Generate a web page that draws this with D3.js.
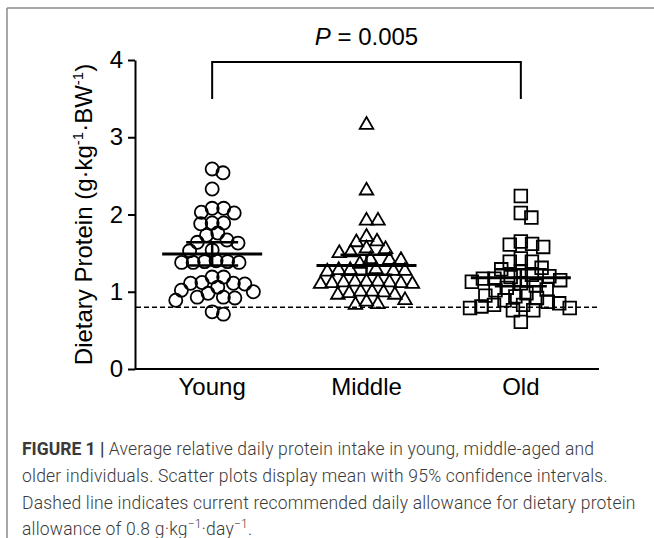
<!DOCTYPE html>
<html lang="en">
<head>
    <meta charset="UTF-8">
    <title>Dietary protein</title>
    <script src="https://d3js.org/d3.v7.min.js"></script>
    <style>
        body, html {
            margin: 0;
            background-color: #ffffff;
        }
        svg text {
            font-family: 'Liberation Sans', Arial, sans-serif;
        }
        svg text.caption {
            font-family: Roboto, 'Liberation Sans', sans-serif;
            font-weight: 300;
            letter-spacing: 0.2px;
            fill: #3a3a3a;
        }
    </style>
</head>
<body>

<svg id="chart" width="654" height="538"></svg>

<script>
    // values
    const categories = ["Young", "Middle", "Old"];
    const young = [2.59, 2.54, 2.33, 2.08, 2.08, 2.03, 2.02, 1.89, 1.88, 1.89, 1.73, 1.76, 1.64, 1.63,
        1.67, 1.53, 1.54, 1.40, 1.39, 1.38, 1.38, 1.39, 1.38, 1.19, 1.19, 1.12, 1.10, 1.06, 1.11,
        1.11, 1.00, 0.98, 1.02, 0.93, 0.93, 0.89, 0.92, 0.71, 0.74];
    const middle = [3.16, 2.31, 1.92, 1.92, 1.65, 1.64, 1.71, 1.55, 1.50, 1.51, 1.56, 1.41, 1.36, 1.41,
        1.42, 1.28, 1.27, 1.26, 1.27, 1.28, 1.29, 1.13, 1.12, 1.10, 1.11, 1.13, 1.12, 1.10, 1.11,
        1.13, 0.98, 0.96, 1.00, 1.00, 0.96, 0.99, 0.87, 0.83, 0.84, 0.89];
    const old = [2.24, 2.02, 1.96, 1.62, 1.58, 1.65, 1.61, 1.39, 1.39, 1.43, 1.29, 1.26, 1.31, 1.22,
        1.20, 1.17, 1.15, 1.17, 1.19, 1.13, 1.11, 1.08, 1.05, 1.02, 1.03, 0.98, 0.95, 0.92, 0.89,
        0.87, 0.94, 0.85, 0.83, 0.81, 0.83, 0.79, 0.76, 0.76, 0.79, 0.61];
    const means = [1.49, 1.34, 1.18];
    const ciLow = [1.34, 1.22, 1.07];
    const ciHigh = [1.64, 1.48, 1.29];
    const yTicks = [0, 1, 2, 3, 4];
    const rda = 0.8;
    const pLabel = "0.005";

    const groups = [young, middle, old];
    const symbols = [d3.symbolCircle, d3.symbolTriangle, d3.symbolSquare];
    const symbolSizes = [135, 80, 160];

    const svg = d3.select("#chart");

    // figure frame (top and left rule)
    svg.append("line").attr("x1", 7).attr("x2", 654).attr("y1", 8).attr("y2", 8)
        .attr("stroke", "#8a8a8a").attr("stroke-width", 1.5);
    svg.append("line").attr("x1", 7).attr("x2", 7).attr("y1", 8).attr("y2", 538)
        .attr("stroke", "#8a8a8a").attr("stroke-width", 1.5);

    const x = d3.scaleBand().domain(categories).range([135, 598]);
    const y = d3.scaleLinear().domain([0, 4]).range([369, 60]);

    // y axis
    const yAxis = svg.append("g")
        .attr("transform", "translate(135,0)")
        .call(d3.axisLeft(y).tickValues(yTicks).tickFormat(d3.format("d"))
            .tickSize(7).tickSizeOuter(0).tickPadding(5));
    yAxis.select(".domain").attr("stroke-width", 2);
    yAxis.selectAll(".tick line").attr("stroke-width", 2);
    yAxis.selectAll(".tick text").attr("font-size", 24).attr("fill", "#000");

    // x axis line and labels
    svg.append("line").attr("x1", 135).attr("x2", 599).attr("y1", y(0)).attr("y2", y(0))
        .attr("stroke", "#000").attr("stroke-width", 2);
    svg.selectAll(".cat").data(categories).enter().append("text")
        .attr("class", "cat")
        .attr("x", d => x(d) + x.bandwidth() / 2)
        .attr("y", y(0) + 26)
        .attr("text-anchor", "middle")
        .attr("font-size", 24)
        .text(d => d);

    // y axis title with superscripts
    const yt = svg.append("text")
        .attr("transform", `translate(92,${(y(0) + y(4)) / 2}) rotate(-90)`)
        .attr("text-anchor", "middle")
        .attr("font-size", 24);
    yt.append("tspan").text("Dietary Protein (g·kg");
    yt.append("tspan").attr("font-size", 15).attr("dy", -9).text("-1");
    yt.append("tspan").attr("dy", 9).text("·BW");
    yt.append("tspan").attr("font-size", 15).attr("dy", -9).text("-1");
    yt.append("tspan").attr("dy", 9).text(")");

    // recommended allowance
    svg.append("line").attr("x1", 136).attr("x2", 598).attr("y1", y(rda)).attr("y2", y(rda))
        .attr("stroke", "#000").attr("stroke-width", 1.5).attr("stroke-dasharray", "5,3");

    // simple beeswarm: place each point as close to the centre as it can go
    function swarm(values, sep) {
        const pts = values.map(v => ({v: v, y: y(v), x: 0})).sort((a, b) => a.y - b.y);
        const placed = [];
        pts.forEach(p => {
            const cands = [0];
            placed.forEach(q => {
                const dy = p.y - q.y;
                if (Math.abs(dy) < sep) {
                    const dx = Math.sqrt(sep * sep - dy * dy);
                    cands.push(q.x + dx, q.x - dx);
                }
            });
            cands.sort((a, b) => Math.abs(a) - Math.abs(b));
            for (const c of cands) {
                const ok = placed.every(q => (q.x - c) ** 2 + (q.y - p.y) ** 2 >= sep * sep - 0.01);
                if (ok) { p.x = c; break; }
            }
            placed.push(p);
        });
        return placed;
    }

    groups.forEach((vals, gi) => {
        const cx = x(categories[gi]) + x.bandwidth() / 2;
        const pts = swarm(vals, 11.5);
        svg.append("g").selectAll("path").data(pts).enter().append("path")
            .attr("d", d3.symbol().type(symbols[gi]).size(symbolSizes[gi]))
            .attr("transform", d => `translate(${cx + d.x},${d.y})`)
            .attr("fill", "none")
            .attr("stroke", "#000")
            .attr("stroke-width", 1.8);

        // mean and 95% CI
        const g = svg.append("g").attr("stroke", "#000");
        g.append("line").attr("x1", cx - 50).attr("x2", cx + 50)
            .attr("y1", y(means[gi])).attr("y2", y(means[gi])).attr("stroke-width", 3);
        g.append("line").attr("x1", cx - 26).attr("x2", cx + 26)
            .attr("y1", y(ciLow[gi])).attr("y2", y(ciLow[gi])).attr("stroke-width", 2.5);
        g.append("line").attr("x1", cx - 26).attr("x2", cx + 26)
            .attr("y1", y(ciHigh[gi])).attr("y2", y(ciHigh[gi])).attr("stroke-width", 2.5);
        g.append("line").attr("x1", cx).attr("x2", cx)
            .attr("y1", y(ciLow[gi])).attr("y2", y(ciHigh[gi])).attr("stroke-width", 2.5);
    });

    // significance bracket Young vs Old
    const bx1 = x("Young") + x.bandwidth() / 2, bx2 = x("Old") + x.bandwidth() / 2;
    svg.append("path")
        .attr("d", `M${bx1},99 V62 H${bx2} V99`)
        .attr("fill", "none").attr("stroke", "#000").attr("stroke-width", 2);
    const pt = svg.append("text")
        .attr("x", (bx1 + bx2) / 2).attr("y", 45)
        .attr("text-anchor", "middle").attr("font-size", 24);
    pt.append("tspan").attr("font-style", "italic").text("P");
    pt.append("tspan").text(" = " + pLabel);

    // caption
    const cap = svg.append("text").attr("class", "caption").attr("font-size", 17.5);
    const l1 = cap.append("tspan").attr("x", 22).attr("y", 455);
    l1.append("tspan").attr("font-weight", "bold").attr("letter-spacing", "0px").text("FIGURE 1 |");
    l1.append("tspan").text(" Average relative daily protein intake in young, middle-aged and");
    cap.append("tspan").attr("x", 22).attr("y", 482)
        .text("older individuals. Scatter plots display mean with 95% confidence intervals.");
    cap.append("tspan").attr("x", 22).attr("y", 509)
        .text("Dashed line indicates current recommended daily allowance for dietary protein");
    const l4 = cap.append("tspan").attr("x", 22).attr("y", 535);
    l4.append("tspan").text("allowance of 0.8 g·kg");
    l4.append("tspan").attr("font-size", 12).attr("dy", -7).text("−1");
    l4.append("tspan").attr("dy", 7).text("·day");
    l4.append("tspan").attr("font-size", 12).attr("dy", -7).text("−1");
    l4.append("tspan").attr("dy", 7).text(".");
</script>

</body>
</html>
